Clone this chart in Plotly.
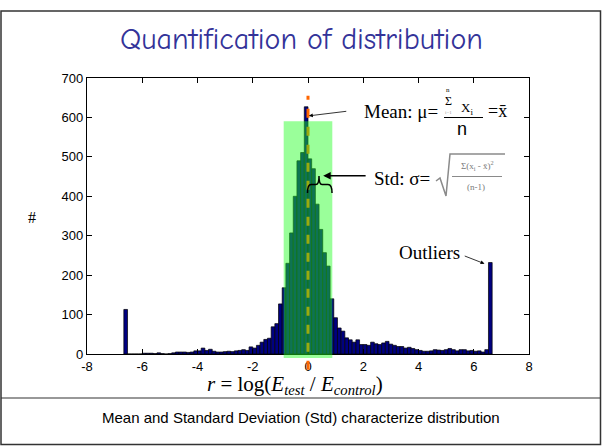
import plotly.graph_objects as go

# ---------------- data ----------------
bin_first_center = -6.6
bin_width = 0.13333
counts = [
    113, 0, 0, 0, 0, 2, 2, 2, 1, 3,
    1, 0, 1, 3, 5, 5, 5, 4, 5, 8,
    8, 15, 9, 12, 7, 5, 5, 6, 7, 6,
    8, 9, 11, 9, 18, 15, 22, 30, 37, 40,
    69, 77, 127, 168, 230, 307, 400, 490, 511, 627,
    495, 470, 380, 316, 257, 223, 140,
    92, 66, 58, 41, 36, 30, 36, 24, 24, 22,
    30, 26, 24, 28, 32, 25, 22, 19, 19, 15,
    17, 14, 11, 9, 7, 7, 8, 11, 10, 9,
    11, 14, 11, 8, 11, 11, 8, 9, 7, 8,
    5, 11, 232,
]
x_ticks = [-8, -6, -4, -2, 0, 2, 4, 6, 8]
y_ticks = [0, 100, 200, 300, 400, 500, 600, 700]
mean_value = 0.0
std_value = 0.88
green_top = 590

# ---------------- geometry helpers (page pixels -> paper) ----------------
W, H = 602, 446
ML, MR, MT, MB = 87, 73, 78, 92
PW, PH = W - ML - MR, H - MT - MB


def px(x):
    return (x - ML) / PW


def py(y):
    return (H - MB - y) / PH


fig = go.Figure()
fig.add_trace(go.Bar(
    x0=bin_first_center, dx=bin_width, y=counts,
    marker=dict(color="#000080", line=dict(color="#000000", width=0.7)),
    width=bin_width, showlegend=False, hoverinfo="skip",
))

shapes = []
shapes.append(dict(type="line", xref="x", yref="paper", x0=mean_value, x1=mean_value,
                   y0=-40 / 700, y1=655 / 700,
                   line=dict(color="#FF6600", width=3, dash="dash")))
shapes.append(dict(type="rect", xref="x", yref="paper",
                   x0=mean_value - std_value, x1=mean_value + std_value,
                   y0=-10 / 700, y1=green_top / 700,
                   fillcolor="rgba(30,255,30,0.45)", line=dict(width=0)))
bx0, bx1 = px(307.5), px(332)
bm = px(319)
b_bot, b_mid, b_top = py(193), py(184.5), py(176)
brace = (f"M {bx0},{b_bot} Q {bx0},{b_mid} {px(311)},{b_mid} L {px(316)},{b_mid} "
         f"Q {bm},{b_mid} {bm},{b_top} Q {bm},{b_mid} {px(322)},{b_mid} "
         f"L {px(328)},{b_mid} Q {bx1},{b_mid} {bx1},{b_bot}")
shapes.append(dict(type="path", xref="paper", yref="paper", path=brace,
                   line=dict(color="black", width=1.5)))
shapes.append(dict(type="line", xref="paper", yref="paper",
                   x0=px(444), x1=px(483), y0=py(117.5), y1=py(117.5),
                   line=dict(color="black", width=1)))
sq = (f"M {px(436)},{py(181)} L {px(440)},{py(178)} L {px(446)},{py(196)} "
      f"L {px(450)},{py(154)} L {px(505)},{py(154)}")
shapes.append(dict(type="path", xref="paper", yref="paper", path=sq,
                   line=dict(color="#8a8a8a", width=1.5)))
shapes.append(dict(type="line", xref="paper", yref="paper",
                   x0=px(452), x1=px(502), y0=py(176.5), y1=py(176.5),
                   line=dict(color="#8a8a8a", width=1)))
shapes.append(dict(type="rect", xref="paper", yref="paper",
                   x0=px(1), x1=px(600.5), y0=py(11), y1=py(444.5),
                   line=dict(color="#333333", width=1.5), fillcolor="rgba(0,0,0,0)"))
shapes.append(dict(type="line", xref="paper", yref="paper",
                   x0=px(1), x1=px(600.5), y0=py(398), y1=py(398),
                   line=dict(color="#333333", width=1.2)))

ann = []


def txt(x, y, t, size, color="black", family="Liberation Serif, Times New Roman, serif", **kw):
    ann.append(dict(x=px(x), y=py(y), xref="paper", yref="paper", text=t, showarrow=False,
                    font=dict(size=size, color=color, family=family),
                    xanchor=kw.get("xanchor", "center"), yanchor="middle"))


txt(301, 39, "Quantification of distribution", 30, "#333399",
    family="Comic Sans MS, Comic Neue, Lato, sans-serif")
txt(301, 417, "Mean and Standard Deviation (Std) characterize distribution", 15,
    family="Liberation Sans, Arial, sans-serif")
txt(32, 217, "#", 16)
txt(295, 385, "<i>r</i> = log(<i>E</i><sub><i>test</i></sub> / <i>E</i><sub><i>control</i></sub>)", 21)
txt(362, 111, "Mean: μ=", 19, xanchor="left")
txt(448, 101, "Σ", 12)
txt(448, 90, "n", 7)
txt(448, 112, "i=1", 5, "#999999")
txt(467, 108, "X<sub>i</sub>", 13)
txt(462, 129, "n", 18, family="Liberation Sans, Arial, sans-serif")
txt(486, 111, "=x̄", 18, xanchor="left")
txt(372, 178, "Std: σ=", 19, xanchor="left")
txt(477, 165, "Σ(x<sub>i</sub> - x̄)<sup>2</sup>", 9, "#7a7a7a")
txt(476, 187, "(n-1)", 9, "#7a7a7a")
ann.append(dict(x=4.4, y=257, xref="x", yref="y", text="Outliers", showarrow=False,
                font=dict(size=19, color="black", family="Liberation Serif, Times New Roman, serif")))
ann.append(dict(x=0.03, y=604, ax=1.44, ay=616, xref="x", yref="y", axref="x", ayref="y",
                text="", showarrow=True, arrowhead=2, arrowsize=1, arrowwidth=0.8, arrowcolor="black"))
ann.append(dict(x=0.55, y=452, ax=2.14, ay=452, xref="x", yref="y", axref="x", ayref="y",
                text="", showarrow=True, arrowhead=2, arrowsize=1, arrowwidth=1.5, arrowcolor="black"))
ann.append(dict(x=6.39, y=229, ax=5.62, ay=250, xref="x", yref="y", axref="x", ayref="y",
                text="", showarrow=True, arrowhead=2, arrowsize=1, arrowwidth=0.8, arrowcolor="black"))

axis_common = dict(showline=True, linecolor="black", linewidth=1.2, mirror="ticks",
                   ticks="inside", ticklen=5, tickcolor="black", showgrid=False, zeroline=False,
                   tickfont=dict(size=13, color="black", family="Liberation Sans, Arial, sans-serif"))
fig.update_layout(
    width=W, height=H, margin=dict(l=ML, r=MR, t=MT, b=MB, pad=0),
    paper_bgcolor="white", plot_bgcolor="white", bargap=0,
    shapes=shapes, annotations=ann,
    xaxis=dict(range=[-8, 8], tickvals=x_ticks, ticktext=[str(v) for v in x_ticks], **axis_common),
    yaxis=dict(range=[0, 700], tickvals=y_ticks, ticktext=[str(v) for v in y_ticks], **axis_common),
)
fig.write_html("out.html", config={"displayModeBar": False, "staticPlot": True},
               post_script="document.body.style.margin='0';document.body.style.overflow='hidden';")
